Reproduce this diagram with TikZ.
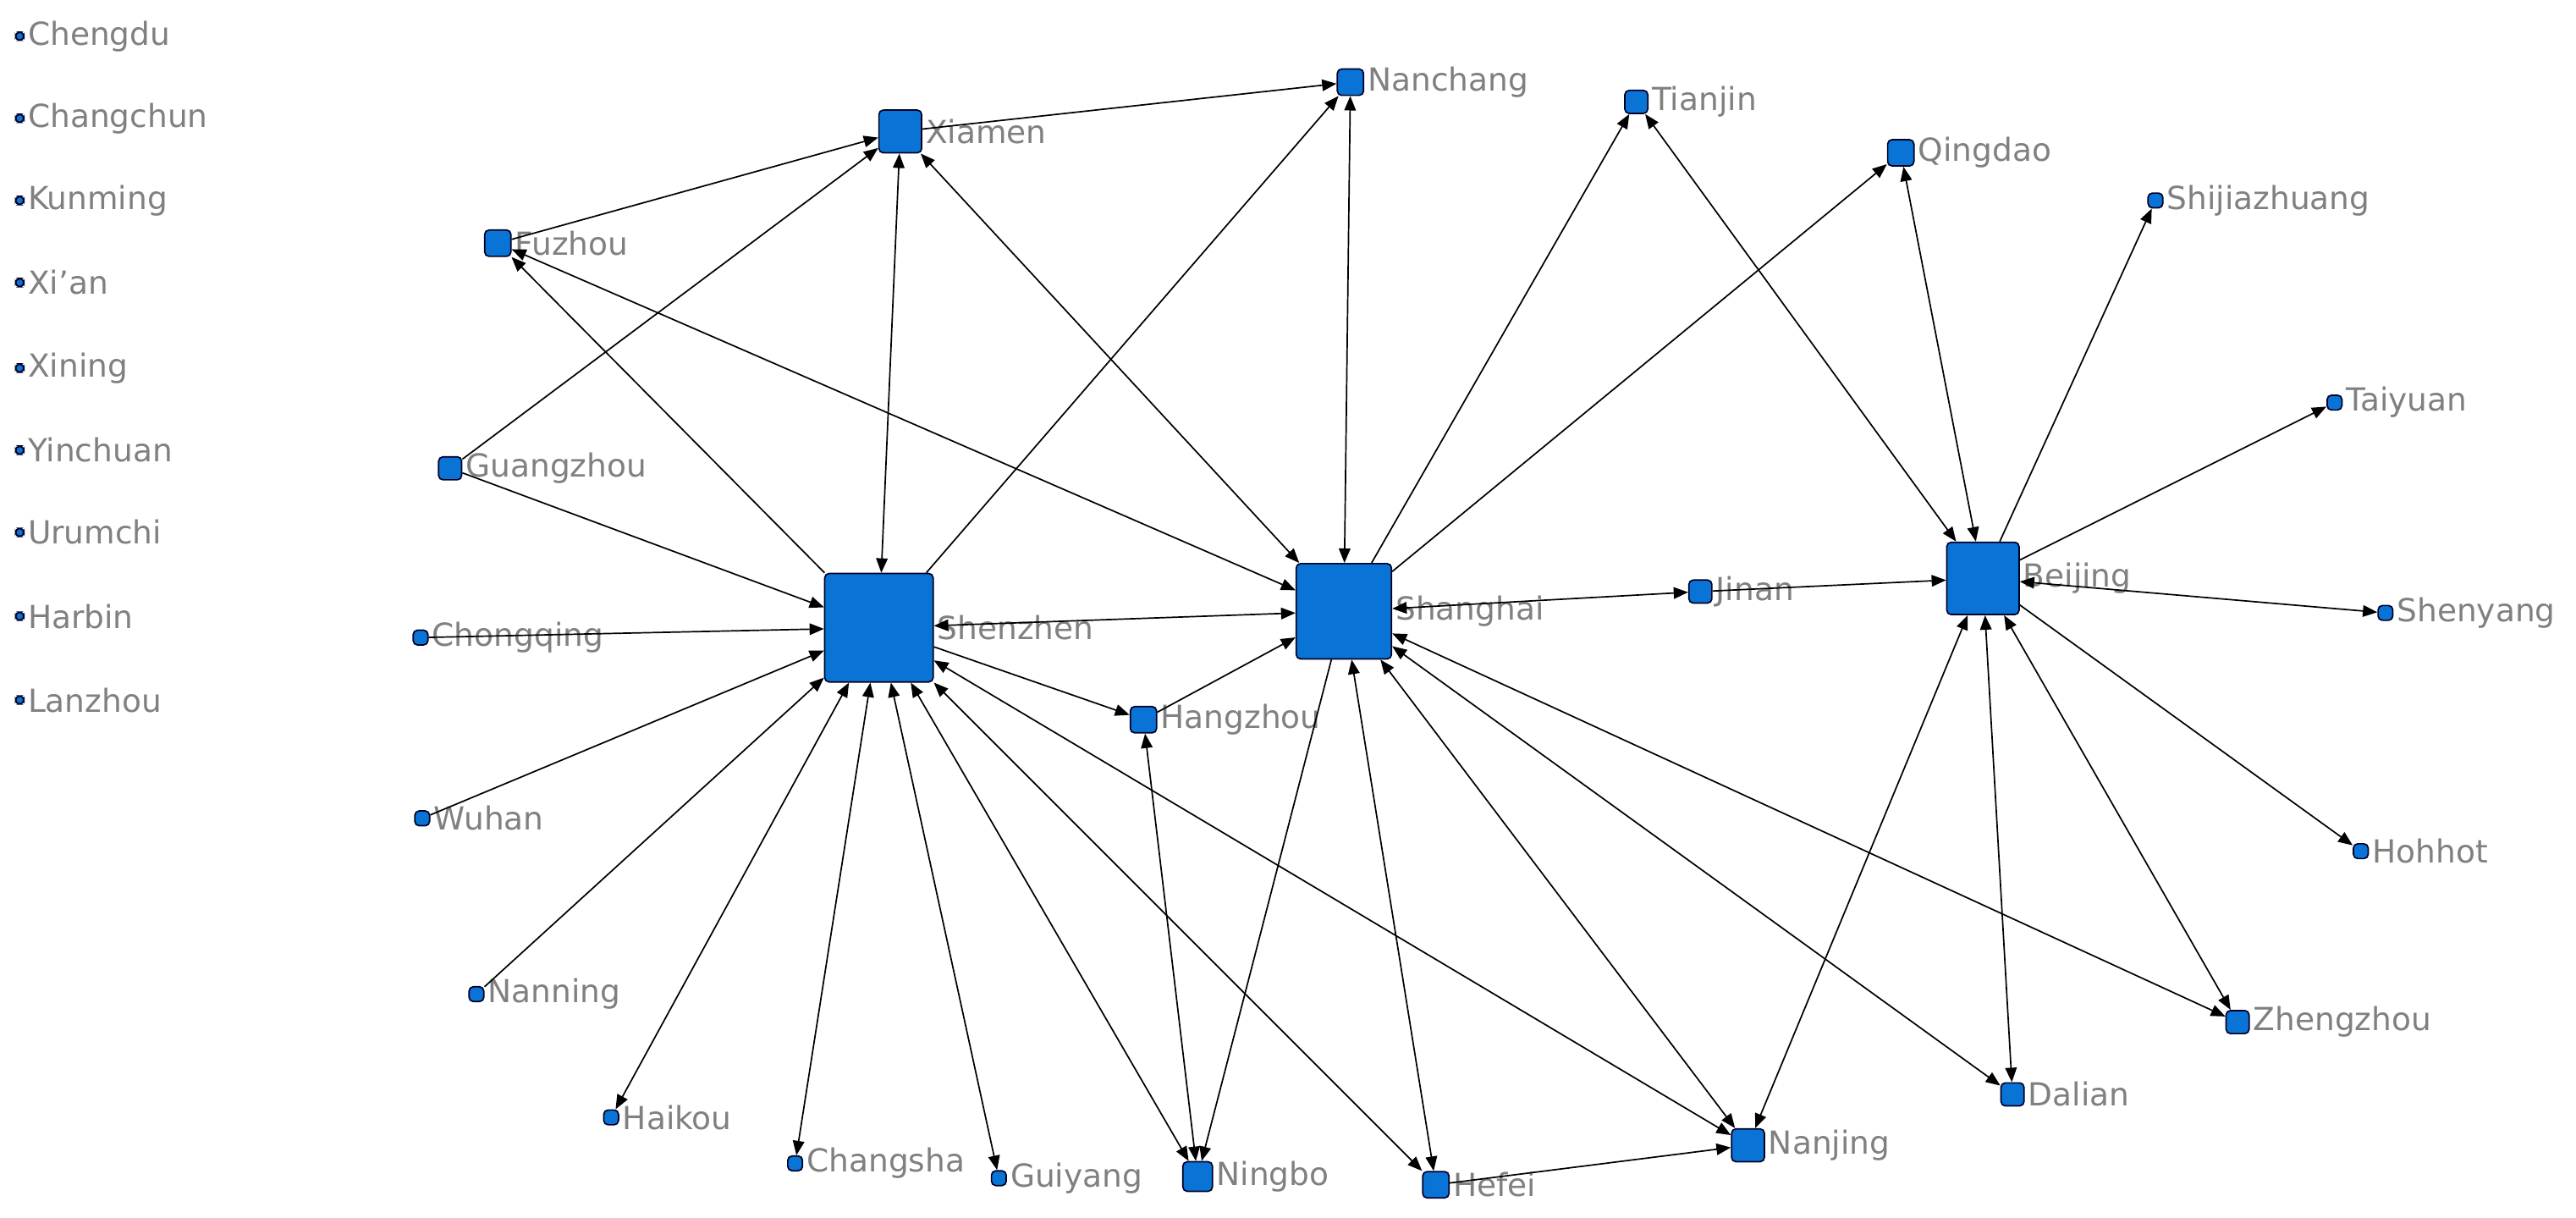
\documentclass[tikz,border=0pt]{standalone}
\usepackage{fontspec}
\setmainfont{DejaVu Sans}
\usetikzlibrary{arrows.meta}
\definecolor{cityblue}{HTML}{0A74D6}
\definecolor{labelgray}{HTML}{808080}
\tikzset{
  city/.style={draw=black!85!blue, fill=cityblue, rounded corners=1.5pt, line width=0.5pt,
    minimum size=#1*0.02cm, inner sep=0pt},
  cityname/.style={text=labelgray, font=\fontsize{11}{12}\selectfont, inner sep=1pt, anchor=west},
  link/.style={draw, line width=0.5pt, -{Triangle[length=5pt,width=4pt]}},
  both/.style={link, {Triangle[length=5pt,width=4pt]}-{Triangle[length=5pt,width=4pt]}}
}
\newcommand{\city}[4]{\node[city=#4] (#1) at (#3) {};
  \node[cityname] (#1-name) at (#1.east) {#2};}
\begin{document}
\begin{tikzpicture}[x=0.02cm, y=-0.02cm]
\useasboundingbox (0,0) rectangle (1568,741);
% isolated cities
\city{cd}{Chengdu}{12,22}{5}
\city{cc}{Changchun}{12,72}{5}
\city{km}{Kunming}{12,122}{5}
\city{xa}{Xi'an}{12,172}{5}
\city{xn}{Xining}{12,224}{5}
\city{yc}{Yinchuan}{12,274}{5}
\city{ur}{Urumchi}{12,324}{5}
\city{hb}{Harbin}{12,375}{5}
\city{lz}{Lanzhou}{12,426}{5}
% connected cities
\city{xm}{Xiamen}{548,80}{26}
\city{nc}{Nanchang}{822,50}{16}
\city{tj}{Tianjin}{996,62}{14}
\city{qd}{Qingdao}{1157,93}{16}
\city{sjz}{Shijiazhuang}{1312,122}{9}
\city{fz}{Fuzhou}{303,148}{16}
\city{ty}{Taiyuan}{1421,245}{9}
\city{gz}{Guangzhou}{274,285}{14}
\city{sz}{Shenzhen}{535,382}{66}
\city{sh}{Shanghai}{818,372}{58}
\city{jn}{Jinan}{1035,360}{14}
\city{bj}{Beijing}{1207,352}{44}
\city{sy}{Shenyang}{1452,373}{9}
\city{cq}{Chongqing}{256,388}{9}
\city{hz}{Hangzhou}{696,438}{16}
\city{wh}{Wuhan}{257,498}{9}
\city{hh}{Hohhot}{1437,518}{9}
\city{nn}{Nanning}{290,605}{9}
\city{zz}{Zhengzhou}{1362,622}{14}
\city{dl}{Dalian}{1225,666}{14}
\city{hk}{Haikou}{372,680}{9}
\city{nj}{Nanjing}{1064,697}{20}
\city{cs}{Changsha}{484,708}{9}
\city{gy}{Guiyang}{608,717}{9}
\city{nb}{Ningbo}{729,716}{18}
\city{hf}{Hefei}{874,721}{16}
% links
\draw[link] (xm) -- (nc);
\draw[link] (fz) -- (xm);
\draw[link] (gz) -- (xm);
\draw[both] (xm) -- (sz);
\draw[both] (sh) -- (xm);
\draw[link] (sz) -- (fz);
\draw[both] (sh) -- (fz);
\draw[link] (sz) -- (nc);
\draw[both] (sh) -- (nc);
\draw[link] (sh) -- (tj);
\draw[link] (sh) -- (qd);
\draw[both] (tj) -- (bj);
\draw[both] (qd) -- (bj);
\draw[link] (bj) -- (sjz);
\draw[link] (bj) -- (ty);
\draw[link] (gz) -- (sz);
\draw[link] (cq) -- (sz);
\draw[link] (wh) -- (sz);
\draw[link] (nn) -- (sz);
\draw[both] (sz) -- (hk);
\draw[both] (sz) -- (cs);
\draw[both] (sz) -- (gy);
\draw[both] (sz) -- (nb);
\draw[both] (sz) -- (sh);
\draw[link] (sz) -- (hz);
\draw[both] (sz) -- (hf);
\draw[both] (sz) -- (nj);
\draw[link] (hz) -- (sh);
\draw[both] (hz) -- (nb);
\draw[link] (sh) -- (nb);
\draw[both] (sh) -- (hf);
\draw[both] (sh) -- (nj);
\draw[both] (sh) -- (dl);
\draw[both] (sh) -- (zz);
\draw[both] (sh) -- (jn);
\draw[link] (jn) -- (bj);
\draw[both] (bj) -- (sy);
\draw[link] (bj) -- (hh);
\draw[both] (bj) -- (zz);
\draw[both] (bj) -- (dl);
\draw[both] (bj) -- (nj);
\draw[link] (hf) -- (nj);
\end{tikzpicture}
\end{document}
